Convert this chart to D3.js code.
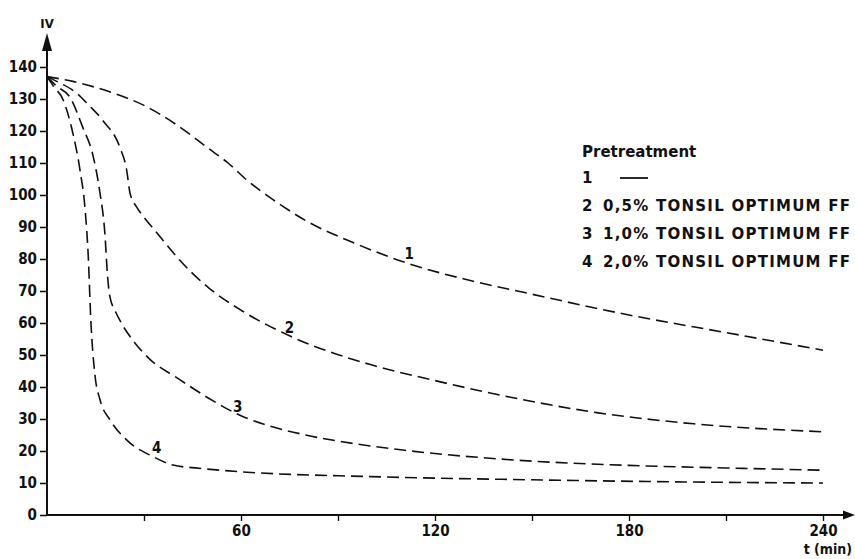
<!DOCTYPE html>
<html>
<head>
<meta charset="utf-8">
<script src="https://cdn.jsdelivr.net/npm/d3@7"></script>
<style>
  body { margin: 0; background: #fff; }
  .chart text { font-family: "DejaVu Sans Condensed", "DejaVu Sans", sans-serif; font-weight: bold; fill: #111; }
  .chart .legend text { font-family: "DejaVu Sans", sans-serif; }
</style>
</head>
<body>
<div class="chart"></div>
<script>
// values (t in min, IV)
const t1 = [0, 8, 20, 30, 40, 50, 56, 62, 70, 80, 95, 112, 130, 150, 180, 210, 240];
const iv1 = [137, 135.5, 132, 128, 122, 114.5, 110, 104.5, 98.5, 92, 85, 78.5, 73.5, 69, 62.5, 57, 51.5];

const t2 = [0, 4, 9, 13, 17.5, 22.5, 24.6, 25.7, 27.7, 29.8, 33.9, 39, 45, 50, 60, 75, 100, 120, 140, 170, 200, 240];
const iv2 = [137, 135, 132, 128, 123, 115, 108, 100.5, 96.3, 93.3, 88.3, 82, 75.5, 71, 64, 56, 47, 42, 37.5, 32, 28.5, 26];

const t3 = [0, 3, 7, 11, 14.3, 16.4, 17.9, 18.7, 19.5, 21, 23, 27, 32, 40, 50, 60, 70, 80, 95, 110, 140, 180, 210, 240];
const iv3 = [137, 134, 130.7, 121.3, 112, 100.5, 88, 75, 68, 64, 60, 54, 48.5, 43, 36.5, 31, 27.5, 25, 22.3, 20.3, 17.5, 15.5, 14.7, 14];

const t4 = [0, 2, 5, 8, 10.2, 11.8, 12.8, 13.5, 14.8, 16.4, 19.5, 24.7, 32.9, 39, 47, 60, 100, 150, 200, 240];
const iv4 = [137, 134, 129.7, 119.3, 107.8, 95.3, 80, 62, 44, 36, 29.7, 23.4, 18.2, 15.6, 14.6, 13.5, 12, 11, 10.3, 10];

const curveNames = [`1`, `2`, `3`, `4`];
// label anchor of each curve number [t, IV]
const curveLabelPos = [[112, 81.5], [75, 58.5], [59, 33.8], [33.9, 21.1]];

const yTicks = d3.range(0, 141, 10);
const xTicks = [30, 60, 90, 120, 150, 180, 210, 240];
const xTickLabels = [60, 120, 180, 240];

const legendTitle = `Pretreatment`;
const legendNums = [`1`, `2`, `3`, `4`];
const legendTexts = [``, `0,5% TONSIL OPTIMUM FF`, `1,0% TONSIL OPTIMUM FF`, `2,0% TONSIL OPTIMUM FF`];

const series = [[t1, iv1], [t2, iv2], [t3, iv3], [t4, iv4]].map(function(s) {
  return s[0].map(function(t, i) { return {t: t, v: s[1][i]}; });
});

const width = 855, height = 559;

const x = d3.scaleLinear().domain([0, 240]).range([47, 823]),
  y = d3.scaleLinear().domain([0, 140]).range([515, 67]);

const svg = d3.select(`.chart`).append(`svg`)
  .attr(`width`, width)
  .attr(`height`, height);

// axes
svg.append(`g`)
  .attr(`transform`, `translate(` + x(0) + `,0)`)
  .call(d3.axisLeft(y).tickValues(yTicks).tickSize(7).tickPadding(3).tickSizeOuter(0))
  .call(function(g) {
    g.select(`.domain`).remove();
    g.selectAll(`line`).attr(`stroke`, `#111`).attr(`stroke-width`, 1.6);
    g.selectAll(`text`).attr(`font-size`, 15).attr(`fill`, `#111`)
      .style(`font-family`, `"DejaVu Sans Condensed", sans-serif`).style(`font-weight`, `bold`);
  });

svg.append(`g`)
  .attr(`transform`, `translate(0,` + y(0) + `)`)
  .call(d3.axisBottom(x).tickValues(xTicks).tickSize(6).tickPadding(4).tickSizeOuter(0)
    .tickFormat(function(d) { return xTickLabels.indexOf(d) >= 0 ? d : ``; }))
  .call(function(g) {
    g.select(`.domain`).remove();
    g.selectAll(`line`).attr(`stroke`, `#111`).attr(`stroke-width`, 1.4);
    g.selectAll(`text`).attr(`font-size`, 15).attr(`fill`, `#111`)
      .style(`font-family`, `"DejaVu Sans Condensed", sans-serif`).style(`font-weight`, `bold`);
  });

// axis lines with arrows
svg.append(`line`)
  .attr(`x1`, x(0)).attr(`x2`, x(0))
  .attr(`y1`, y(0) + 1).attr(`y2`, 48)
  .attr(`stroke`, `#111`).attr(`stroke-width`, 2);
svg.append(`path`)
  .attr(`d`, `M` + x(0) + `,33 L` + (x(0) - 5) + `,51 L` + (x(0) + 5) + `,51 Z`)
  .attr(`fill`, `#111`);

svg.append(`line`)
  .attr(`x1`, x(0) - 1).attr(`x2`, 845)
  .attr(`y1`, y(0)).attr(`y2`, y(0))
  .attr(`stroke`, `#111`).attr(`stroke-width`, 2);
svg.append(`path`)
  .attr(`d`, `M855,` + y(0) + ` L843,` + (y(0) - 4.5) + ` L843,` + (y(0) + 4.5) + ` Z`)
  .attr(`fill`, `#111`);

svg.append(`text`)
  .attr(`x`, x(0)).attr(`y`, 28)
  .attr(`text-anchor`, `middle`)
  .attr(`font-size`, 13)
  .text(`IV`);

svg.append(`text`)
  .attr(`x`, 852).attr(`y`, 554)
  .attr(`text-anchor`, `end`)
  .attr(`font-size`, 14)
  .text(`t (min)`);

// curves
const line = d3.line()
  .x(function(d) { return x(d.t); })
  .y(function(d) { return y(d.v); })
  .curve(d3.curveMonotoneX);

svg.selectAll(`.curve`)
  .data(series)
  .enter().append(`path`)
  .attr(`class`, `curve`)
  .attr(`d`, line)
  .attr(`fill`, `none`)
  .attr(`stroke`, `#111`)
  .attr(`stroke-width`, 1.6)
  .attr(`stroke-dasharray`, `12,6`);

svg.selectAll(`.curve-label`)
  .data(curveNames)
  .enter().append(`text`)
  .attr(`class`, `curve-label`)
  .attr(`x`, function(d, i) { return x(curveLabelPos[i][0]); })
  .attr(`y`, function(d, i) { return y(curveLabelPos[i][1]); })
  .attr(`dy`, `0.35em`)
  .attr(`text-anchor`, `middle`)
  .attr(`font-size`, 15)
  .text(function(d) { return d; });

// legend
const legend = svg.append(`g`).attr(`class`, `legend`).attr(`transform`, `translate(582,0)`);

legend.append(`text`)
  .attr(`x`, 0).attr(`y`, 152)
  .attr(`dy`, `0.35em`)
  .attr(`font-size`, 15)
  .text(legendTitle);

const rows = legend.selectAll(`.row`)
  .data(legendNums)
  .enter().append(`g`)
  .attr(`class`, `row`)
  .attr(`transform`, function(d, i) { return `translate(0,` + (178 + i * 28) + `)`; });

rows.append(`text`)
  .attr(`dy`, `0.35em`)
  .attr(`font-size`, 15)
  .text(function(d) { return d; });

rows.filter(function(d, i) { return i > 0; })
  .append(`text`)
  .attr(`x`, 21)
  .attr(`dy`, `0.35em`)
  .attr(`font-size`, 15)
  .attr(`textLength`, 247)
  .attr(`lengthAdjust`, `spacing`)
  .text(function(d, i) { return legendTexts[i + 1]; });

rows.filter(function(d, i) { return i === 0; })
  .append(`line`)
  .attr(`x1`, 38).attr(`x2`, 66)
  .attr(`stroke`, `#111`).attr(`stroke-width`, 1.8);
</script>
</body>
</html>
